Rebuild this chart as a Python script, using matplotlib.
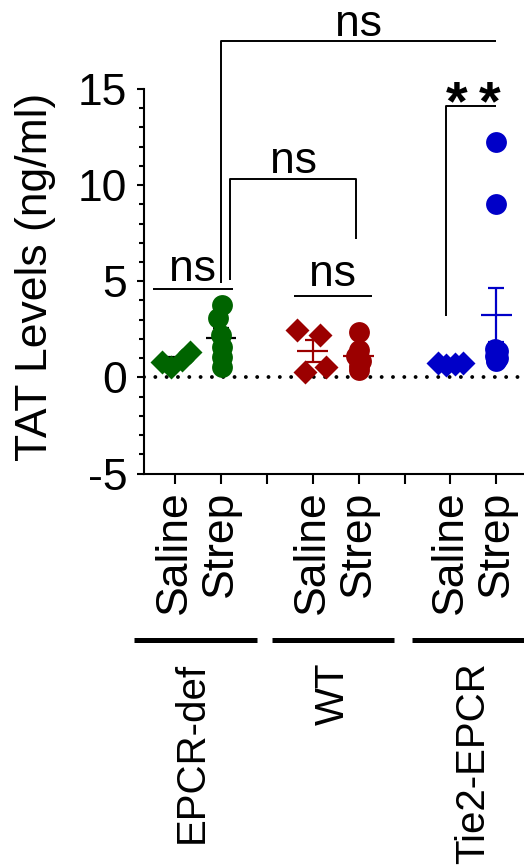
import matplotlib
matplotlib.use("Agg")
import matplotlib.pyplot as plt
import numpy as np

plt.rcParams["font.family"] = ["Liberation Sans", "DejaVu Sans"]
plt.rcParams["axes.unicode_minus"] = False

# TAT levels (ng/ml) per mouse
epcr_saline = [0.82, 0.52, 0.90, 1.34]
epcr_strep = [3.77, 3.07, 2.20, 1.60, 1.08, 0.56]
wt_saline = [2.45, 2.20, 0.30, 0.55]
wt_strep = [2.38, 1.40, 1.10, 0.85, 0.60, 0.40]
tie2_saline = [0.75, 0.65, 0.70, 0.75]
tie2_strep = [12.25, 9.00, 1.45, 1.35, 1.25, 1.10, 1.00, 0.90, 0.85]

treatments = ["Saline", "Strep"]
groups = ["EPCR-def", "WT", "Tie2-EPCR"]
green, red, blue = "#006400", "#9B0000", "#0000C8"

series = [
    (epcr_saline, 1, "D", green, "black", [-0.27, -0.09, 0.15, 0.33]),
    (epcr_strep, 2, "o", green, "black", [0.02, -0.06, 0.0, 0.02, 0.02, 0.02]),
    (wt_saline, 4, "D", red, red, [-0.33, 0.17, -0.17, 0.30]),
    (wt_strep, 5, "o", red, red, [0.0, 0.0, -0.05, 0.05, 0.0, 0.0]),
    (tie2_saline, 7, "D", blue, blue, [-0.28, -0.09, 0.09, 0.28]),
    (tie2_strep, 8, "o", blue, blue, [0, 0, -0.04, 0.04, 0, -0.04, 0.04, 0, 0]),
]

fig = plt.figure(figsize=(5.24, 8.67), dpi=100)
ax = fig.add_axes([144 / 524, 393.5 / 867, 380 / 524, 384.5 / 867])

for vals, pos, marker, color, ecolor, jit in series:
    vals = np.array(vals)
    mean = vals.mean()
    sem = vals.std(ddof=1) / np.sqrt(len(vals))
    ax.hlines(mean, pos - 0.33, pos + 0.33, color=ecolor, lw=1.6, zorder=2)
    ax.errorbar(pos, mean, yerr=sem, fmt="none", ecolor=ecolor, elinewidth=1.6,
                capsize=5.5, capthick=1.6, zorder=2)
    ms = 12 if marker == "D" else 15
    ax.plot(pos + np.array(jit), vals, marker, color=color, ms=ms, mec="none", zorder=3)

ax.axhline(0, color="black", lw=2.8, ls=(0, (0.01, 2.9)), dash_capstyle="round", zorder=1)

ax.set_xlim(0.33, 8.6)
ax.set_ylim(-5, 15)
ax.set_yticks([-5, 0, 5, 10, 15])
ax.set_yticks(np.arange(-5, 16, 1), minor=True)
ax.set_xticks([1, 2, 3, 4, 5, 6, 7, 8])
ax.set_xticklabels(["Saline", "Strep", "", "Saline", "Strep", "", "Saline", "Strep"],
                   rotation=90, fontsize=32)
ax.tick_params(axis="y", which="major", length=5, width=1.5, labelsize=32, pad=7)
ax.tick_params(axis="y", which="minor", length=3.5, width=1.5)
ax.tick_params(axis="x", length=7, width=1.5, pad=5)
for s in ["top", "right"]:
    ax.spines[s].set_visible(False)
for s in ["left", "bottom"]:
    ax.spines[s].set_linewidth(1.5)

ax.set_ylabel("TAT Levels (ng/ml)", fontsize=32)
ax.yaxis.set_label_coords(-0.2316, 0.511)

# significance brackets
kw = dict(color="black", lw=1.4, clip_on=False, solid_capstyle="butt")
ax.plot([0.52, 2.26], [4.6, 4.6], **kw)
ax.text(1.39, 5.0, "ns", ha="center", va="baseline", fontsize=32)
ax.plot([3.59, 5.3], [4.23, 4.23], **kw)
ax.text(4.43, 4.75, "ns", ha="center", va="baseline", fontsize=32)
ax.plot([2.21, 2.21, 4.95, 4.95], [5.07, 10.32, 10.32, 7.2], **kw)
ax.text(3.58, 10.65, "ns", ha="center", va="baseline", fontsize=32)
ax.plot([2.0, 2.0, 7.98], [4.9, 17.5, 17.5], **kw)
ax.text(4.99, 17.77, "ns", ha="center", va="baseline", fontsize=32)
ax.plot([6.9, 6.9, 7.99], [3.19, 14.13, 14.13], **kw)
for xs in [7.13, 7.85]:
    ax.text(xs, 13.45, "*", ha="center", va="baseline", fontsize=40, fontweight="bold")

# group bars and labels under the axis
for (x0, x1), xc, name in zip([(0.11, 2.78), (3.11, 5.78), (6.17, 8.85)],
                              [1.38, 4.45, 7.5], groups):
    ax.plot([x0, x1], [-13.66, -13.66], color="black", lw=3.6, clip_on=False,
            solid_capstyle="butt")
    ax.text(xc, -14.81, name, rotation=90, ha="center", va="top", fontsize=29)

fig.savefig("out.png", dpi=100)
